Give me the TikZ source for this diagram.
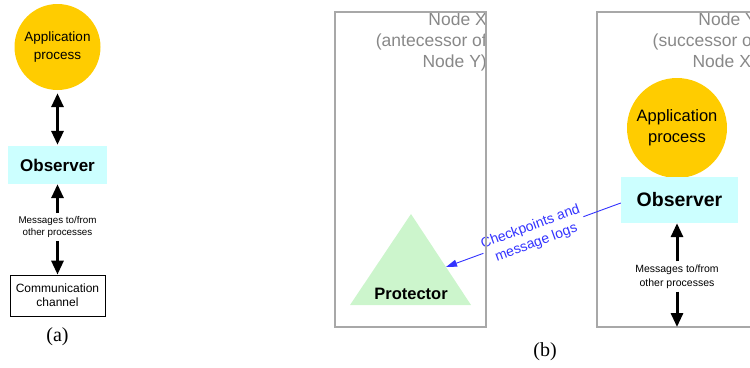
\documentclass[tikz,border=0pt]{standalone}
\usepackage{fontspec}
\setmainfont{Liberation Sans}
\newfontfamily\capfont{Liberation Serif}
\usetikzlibrary{arrows.meta}
\definecolor{appyellow}{HTML}{FFCC00}
\definecolor{obscyan}{HTML}{CCFFFF}
\definecolor{protgreen}{HTML}{CCF5CC}
\definecolor{boxgray}{HTML}{A8A8A8}
\definecolor{txtgray}{HTML}{888888}
\definecolor{logblue}{HTML}{3333FF}
\begin{document}
\begin{tikzpicture}[x=1pt,y=-1pt,
  app/.style={circle, fill=appyellow, inner sep=0pt, align=center},
  obsbox/.style={fill=obscyan, inner sep=0pt, font=\bfseries},
  msg/.style={align=center, inner sep=3pt},
  nodebox/.style={draw=boxgray, line width=1.3pt, inner sep=0pt},
  graytxt/.style={anchor=north east, align=right, inner sep=0pt, text=txtgray,
    font=\fontsize{17.5}{21}\selectfont},
  captxt/.style={font=\capfont\fontsize{20}{24}\selectfont},
  bothway/.style={line width=3pt, {Triangle[length=14pt,width=12pt]}-{Triangle[length=14pt,width=12pt]}},
  oneway/.style={line width=3pt, -{Triangle[length=14pt,width=12pt]}},
]
\useasboundingbox (0,0) rectangle (750,367);
\clip (0,0) rectangle (750,367);

% ---------- (a) ----------
\node[app, minimum size=86pt, font=\fontsize{13.5}{18}\selectfont] (appA) at (57.5,47) {Application\\process};
\node[obsbox, minimum width=99pt, minimum height=38pt, font=\bfseries\fontsize{17}{20}\selectfont] (obsA) at (57.5,165) {Observer};
\node[msg, font=\fontsize{9.8}{12}\selectfont] (msgA) at (57.5,227) {Messages to/from\\other processes};
\node[draw, line width=0.8pt, minimum width=95pt, minimum height=41pt, align=center,
  font=\fontsize{12}{14}\selectfont] (chan) at (57.5,295.5) {Communication\\channel};
\node[captxt] (capA) at (57.5,337) {(a)};

\draw[bothway, shorten <=3pt, shorten >=1pt] (appA) -- (obsA);
\draw[oneway] (msgA) -- (obsA);
\draw[oneway] (msgA) -- (chan);

% ---------- (b) ----------
\node[nodebox, minimum width=163pt, minimum height=315pt] (nodeY) at (678.5,169.5) {};
\node[graytxt] (lblY) at (757,12.5) {Node Y\\(successor of\\Node X)};
\node[graytxt] (lblX) at (487,12.5) {Node X\\(antecessor of\\Node Y)};

\node[app, minimum size=100pt, font=\fontsize{16.5}{21}\selectfont] (appB) at (677,128) {Application\\process};
\node[obsbox, minimum width=117pt, minimum height=46pt, font=\bfseries\fontsize{19.5}{23}\selectfont] (obsB) at (679.5,200) {Observer};
\node[msg, font=\fontsize{10.5}{14}\selectfont] (msgB) at (677,276.5) {Messages to/from\\other processes};
\coordinate (busB) at (677,327);
\draw[oneway] (msgB) -- (msgB |- obsB.south);
\draw[oneway] (msgB) -- (busB);

\fill[protgreen] (411,214) -- (471,305) -- (350,305) -- cycle;
\node[font=\bfseries\fontsize{16.5}{20}\selectfont] (prot) at (411,294) {Protector};
\coordinate (protTip) at (446,267);

\draw[logblue, line width=0.9pt, -{Triangle[length=11pt,width=7pt]}] ([yshift=-3pt]obsB.west) -- (protTip)
  node[midway, sloped, fill=white, inner sep=1pt, align=center, text=logblue,
    font=\fontsize{14}{17}\selectfont] (logs) {Checkpoints and\\message logs};

\node[nodebox, minimum width=151pt, minimum height=315pt] (nodeX) at (410.5,169.5) {};

\node[captxt] (capB) at (545,352) {(b)};
\end{tikzpicture}
\end{document}
